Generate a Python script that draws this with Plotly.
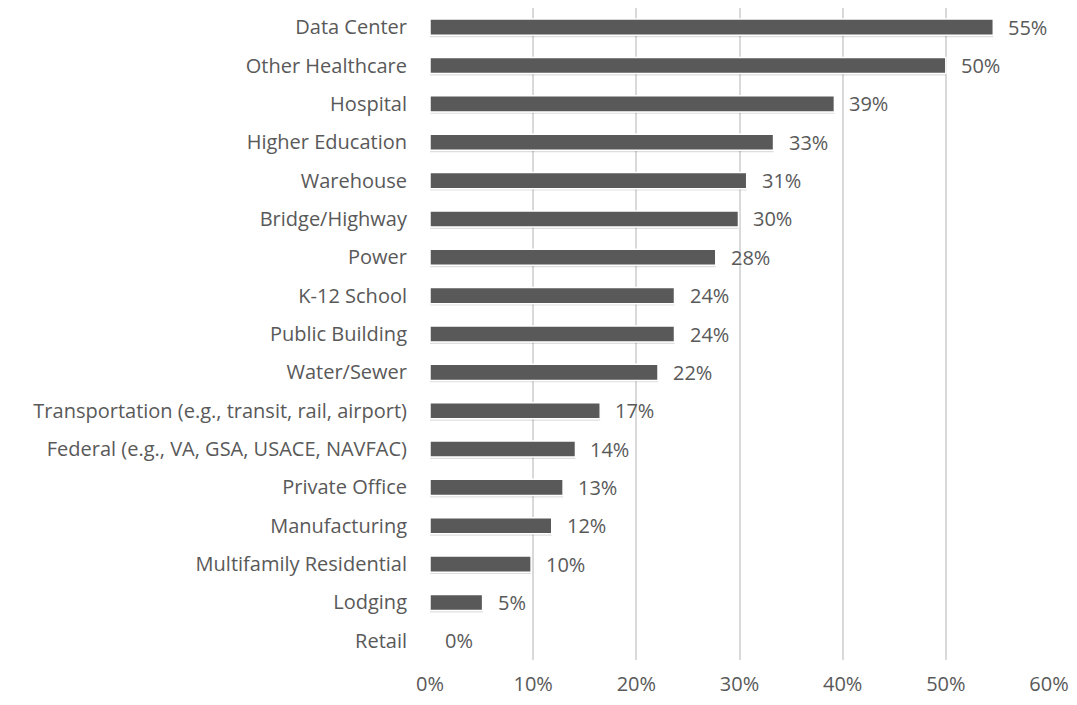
import plotly.graph_objects as go

categories = ["Data Center", "Other Healthcare", "Hospital", "Higher Education", "Warehouse",
              "Bridge/Highway", "Power", "K-12 School", "Public Building", "Water/Sewer",
              "Transportation (e.g., transit, rail, airport)", "Federal (e.g., VA, GSA, USACE, NAVFAC)",
              "Private Office", "Manufacturing", "Multifamily Residential", "Lodging", "Retail"]
values = [0.546, 0.500, 0.392, 0.333, 0.307, 0.299, 0.277, 0.237, 0.237, 0.221,
          0.165, 0.141, 0.129, 0.118, 0.098, 0.051, 0.0]
labels = ["55%", "50%", "39%", "33%", "31%", "30%", "28%", "24%", "24%", "22%",
          "17%", "14%", "13%", "12%", "10%", "5%", "0%"]
x_ticks = [0, 0.1, 0.2, 0.3, 0.4, 0.5, 0.6]
x_tick_labels = ["0%", "10%", "20%", "30%", "40%", "50%", "60%"]

FONT = "'Open Sans', sans-serif"
GREY = "#595959"
FS = 20

fig = go.Figure()
# soft shadow under each bar
fig.add_trace(go.Bar(
    x=values, y=categories, orientation="h",
    marker=dict(color="rgba(0,0,0,0.13)", line=dict(width=0)),
    width=0.42, offset=-0.16, hoverinfo="skip",
))
fig.add_trace(go.Bar(
    x=values, y=categories, orientation="h",
    marker=dict(color=GREY, line=dict(color="white", width=1.5)),
    width=0.42, offset=-0.21, hoverinfo="skip",
))
for v, c, t in zip(values, categories, labels):
    fig.add_annotation(x=v, y=c, text=t, showarrow=False, xanchor="left", xshift=13,
                       font=dict(family=FONT, size=FS, color=GREY))

fig.update_layout(
    width=1061, height=689,
    margin=dict(l=422, r=11, t=0, b=35),
    paper_bgcolor="white", plot_bgcolor="white",
    showlegend=False, barmode="overlay",
    font=dict(family=FONT, size=FS, color=GREY),
    xaxis=dict(range=[0, 0.6], tickvals=x_ticks, ticktext=x_tick_labels,
               showgrid=True, gridcolor="#d9d9d9", gridwidth=1.5, zeroline=False,
               showline=False, ticks="", ticklabelstandoff=10, ticklabeloverflow="allow",
               tickfont=dict(family=FONT, size=FS, color=GREY)),
    yaxis=dict(autorange="reversed", showgrid=False, ticks="", ticklabelstandoff=22,
               tickfont=dict(family=FONT, size=FS, color=GREY)),
)
fig.write_html("out.html")
